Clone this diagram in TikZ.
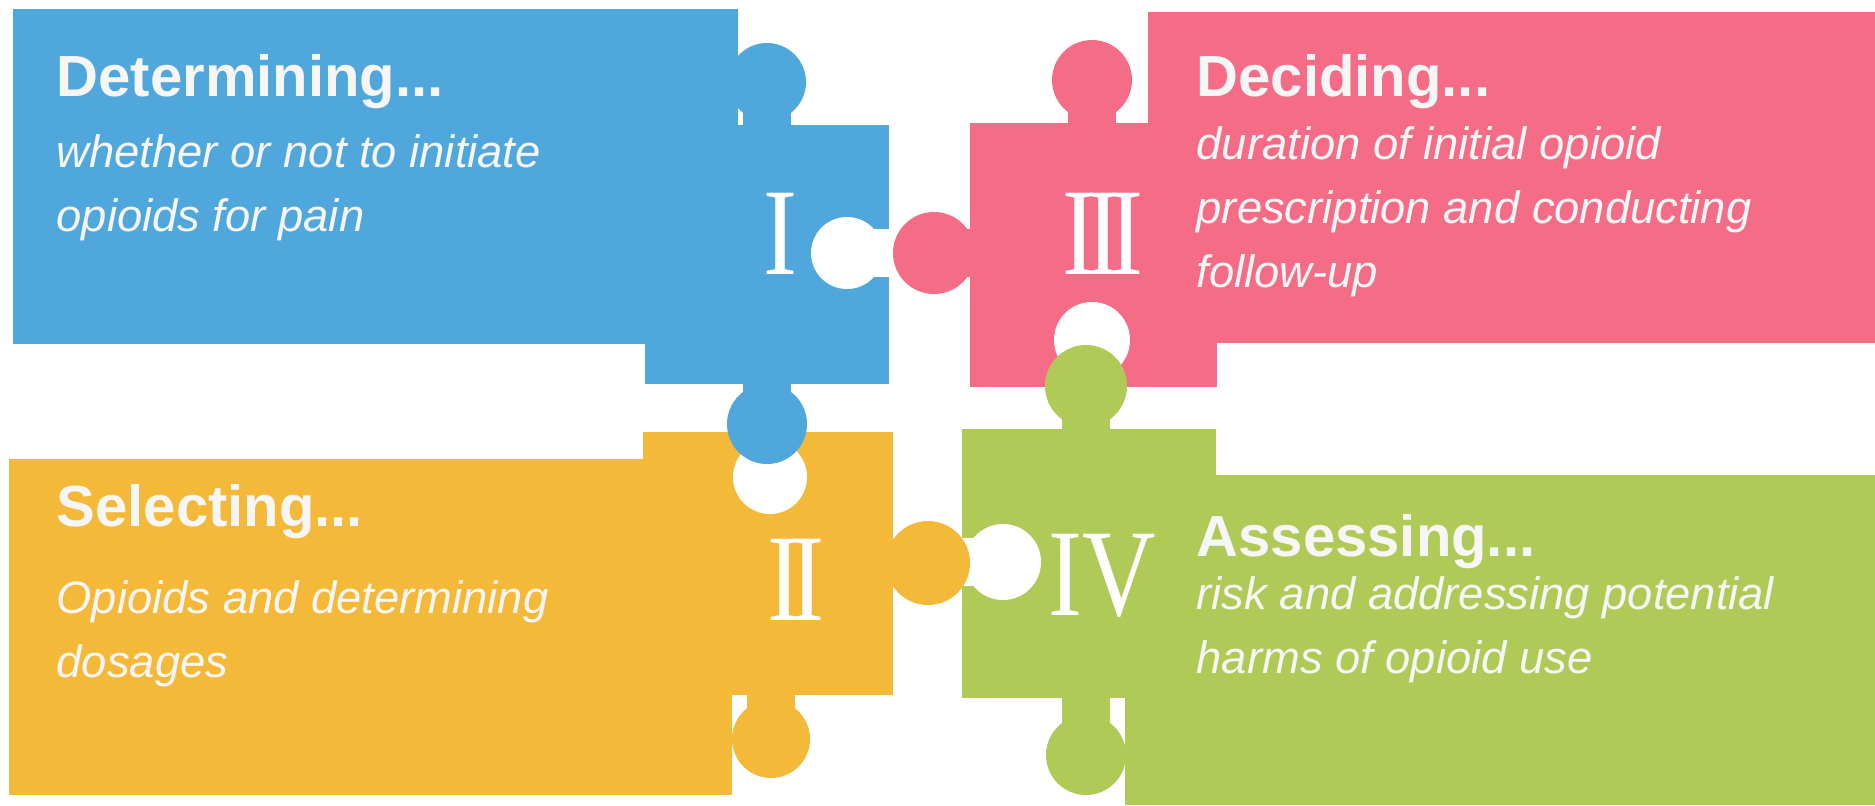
\documentclass[tikz,border=0pt]{standalone}
\usepackage{fontspec}
\setmainfont{Liberation Sans}
\newfontfamily\numfont[FakeStretch=0.82]{Liberation Serif}
\usetikzlibrary{positioning}

\definecolor{pzblue}{RGB}{80,167,219}
\definecolor{pzpink}{RGB}{245,108,134}
\definecolor{pzorange}{RGB}{245,185,57}
\definecolor{pzgreen}{RGB}{175,202,87}
\definecolor{pztext}{RGB}{246,246,246}

\begin{document}
\begin{tikzpicture}[x=0.01cm,y=-0.01cm,
  head/.style={font=\fontsize{16.5}{20}\selectfont\bfseries, text=pztext, inner sep=0, anchor=base west},
  body/.style={font=\fontsize{12.9}{18.2}\selectfont\itshape, text=pztext, inner sep=0, anchor=north west, align=left},
  numeral/.style={font=\numfont\fontsize{35.3}{40}\selectfont, text=white, inner sep=0}]

\useasboundingbox (0,0) rectangle (1875,805);

% pink piece
\fill[pzpink] (1148,12) rectangle (1875,343);
\fill[pzpink] (970,123) rectangle (1217,387);
\fill[pzpink] (1092,80) circle[radius=40];
\fill[pzpink] (1068,80) rectangle (1116,124);
\fill[pzpink] (934,253) circle[radius=41];
\fill[pzpink] (934,229) rectangle (971,277);
\fill[white] (1092,340) circle[radius=38];
\fill[white] (1068,340) rectangle (1116,388);

% green piece
\fill[pzgreen] (1125,475) rectangle (1875,805);
\fill[pzgreen] (962,429) rectangle (1216,698);
\fill[pzgreen] (1086,386) circle[radius=41];
\fill[pzgreen] (1062,386) rectangle (1110,430);
\fill[pzgreen] (1086,755) circle[radius=40];
\fill[pzgreen] (1062,697) rectangle (1110,755);
\fill[white] (1003,562) circle[radius=38];
\fill[white] (961,538) rectangle (1003,586);

% orange piece
\fill[pzorange] (9,459) rectangle (732,795);
\fill[pzorange] (643,432) rectangle (893,695);
\fill[pzorange] (928,563) circle[radius=42];
\fill[pzorange] (892,539) rectangle (928,587);
\fill[pzorange] (771,739) circle[radius=39];
\fill[pzorange] (747,694) rectangle (795,739);
\fill[white] (770,477) circle[radius=37];
\fill[white] (746,431) rectangle (794,477);

% blue piece
\fill[pzblue] (13,9) rectangle (738,344);
\fill[pzblue] (645,125) rectangle (889,384);
\fill[pzblue] (767,82) circle[radius=39];
\fill[pzblue] (743,82) rectangle (791,126);
\fill[pzblue] (767,424) circle[radius=40];
\fill[pzblue] (743,383) rectangle (791,424);
\fill[white] (847,253) circle[radius=36];
\fill[white] (847,229) rectangle (890,277);

\node[numeral] (n1) at (780,234) {I};
\node[numeral] (n2) at (796,580) {I\kern-3pt I};
\node[numeral] (n3) at (1103,234) {I\kern-3pt I\kern-3pt I};
\node[numeral] (n4) at (1102,576) {IV};

\node[head] (h1) at (56,96) {Determining...};
\node[body] (b1) at (56,134) {whether or not to initiate\\opioids for pain};

\node[head] (h3) at (1196,96) {Deciding...};
\node[body] (b3) at (1196,126) {duration of initial opioid\\prescription and conducting\\follow-up};

\node[head] (h2) at (56,526) {Selecting...};
\node[body] (b2) at (56,580) {Opioids and determining\\dosages};

\node[head] (h4) at (1196,556) {Assessing...};
\node[body] (b4) at (1196,576) {risk and addressing potential\\harms of opioid use};

\end{tikzpicture}
\end{document}
